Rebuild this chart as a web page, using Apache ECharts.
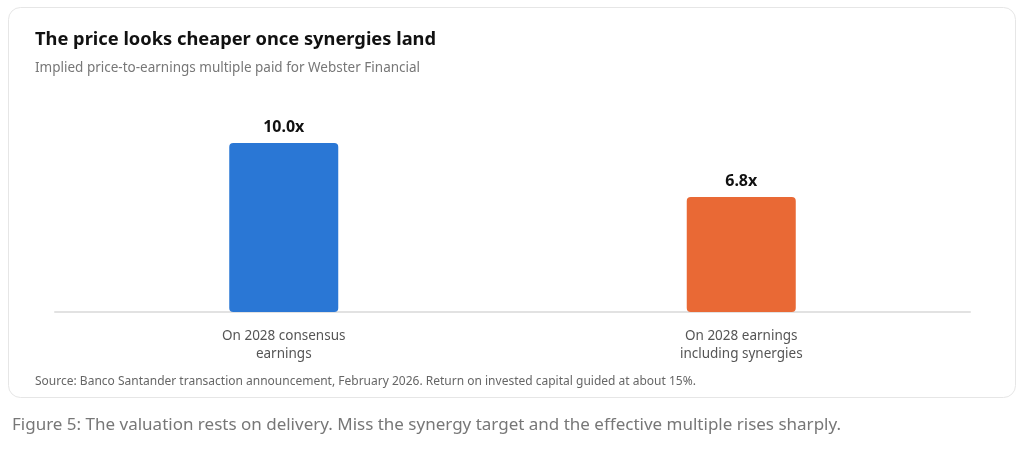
<!DOCTYPE html>
<html>
<head>
<meta charset="utf-8">
<script src="https://cdn.jsdelivr.net/npm/echarts@6/dist/echarts.min.js"></script>
<style>
  html, body { margin: 0; padding: 0; background: #fff; }
  #chart { width: 1024px; height: 461px; }
</style>
</head>
<body>
<div id="chart"></div>
<script>
// bar values
var categories = ['On 2028 consensus\nearnings', 'On 2028 earnings\nincluding synergies']
var multiples = [10.0, 6.8]
var barColors = ['#2a77d5', '#e96935']

var FONT = '"Noto Sans", "Open Sans", sans-serif'

var chart = echarts.init(document.getElementById('chart'))

var option = {
  backgroundColor: '#fff',
  animation: false,
  title: {
    text: 'The price looks cheaper once synergies land',
    subtext: 'Implied price-to-earnings multiple paid for Webster Financial',
    left: 35,
    top: 31,
    padding: 0,
    itemGap: 12,
    textStyle: {
      fontFamily: FONT,
      fontSize: 18.3,
      fontWeight: 'bold',
      color: '#111'
    },
    subtextStyle: {
      fontFamily: FONT,
      fontSize: 13.5,
      color: '#777'
    }
  },
  grid: {
    left: 55,
    right: 54,
    top: 143,
    bottom: 149
  },
  xAxis: {
    type: 'category',
    data: categories,
    axisTick: { show: false },
    axisLine: {
      lineStyle: { color: '#e2e2e2', width: 2 }
    },
    axisLabel: {
      margin: 15,
      fontFamily: FONT,
      fontSize: 13.5,
      lineHeight: 18,
      color: '#555'
    }
  },
  yAxis: {
    type: 'value',
    min: 0,
    max: 10,
    show: false
  },
  series: [{
    type: 'bar',
    barWidth: 109,
    data: multiples.map(function (v, i) {
      return { value: v, itemStyle: { color: barColors[i] } }
    }),
    itemStyle: { borderRadius: 4 },
    label: {
      show: true,
      position: 'top',
      distance: 8,
      fontFamily: FONT,
      fontSize: 16,
      fontWeight: 'bold',
      color: '#111',
      formatter: function (p) { return p.value.toFixed(1) + 'x' }
    }
  }],
  graphic: [
    // card
    {
      type: 'rect',
      z: -10,
      shape: { x: 8.5, y: 7.5, width: 1007, height: 390, r: 12 },
      style: { fill: '#fff', stroke: '#e6e6e6', lineWidth: 1 }
    },
    {
      type: 'text',
      left: 35,
      top: 376,
      style: {
        text: 'Source: Banco Santander transaction announcement, February 2026. Return on invested capital guided at about 15%.',
        font: '12px ' + FONT,
        fill: '#666'
      }
    },
    // caption under the card
    {
      type: 'text',
      left: 12,
      top: 417,
      style: {
        text: 'Figure 5: The valuation rests on delivery. Miss the synergy target and the effective multiple rises sharply.',
        font: '17px ' + FONT,
        fill: '#777'
      }
    }
  ]
}

chart.setOption(option)
</script>
</body>
</html>
